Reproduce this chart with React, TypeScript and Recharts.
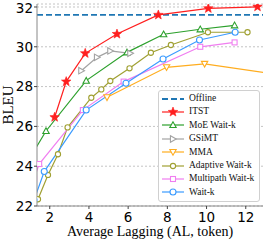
import { LineChart, Line, XAxis, YAxis, CartesianGrid, ReferenceLine } from 'recharts'

// AL (x) and BLEU (y)
const OFFLINE = 31.6

const itstX = [2.25, 2.84, 3.81, 5.43, 7.54, 10.09, 12.6]
const itstY = [26.46, 28.25, 29.67, 30.64, 31.6, 31.93, 32.01]

const moeX = [1.1, 1.81, 3.86, 5.94, 7.81, 9.68, 11.43]
const moeY = [24.6, 25.77, 28.3, 29.72, 30.63, 30.88, 31.08]

const gsimtX = [3.61, 4.41, 5.09, 6.11]
const gsimtY = [28.8, 29.47, 29.79, 29.67]

const mmaX = [4.92, 7.96, 9.9, 14.0]
const mmaY = [27.46, 28.97, 29.14, 28.56]

const adaptiveX = [1.4, 1.91, 2.42, 2.91, 4.12, 4.63, 5.09, 6.07, 7.16, 8.18, 10.07, 12.09]
const adaptiveY = [22.34, 23.56, 24.6, 25.95, 27.44, 27.86, 28.28, 28.92, 29.7, 30.09, 30.73, 30.73]

const multipathX = [1.2, 1.46, 3.69, 5.77, 9.68, 11.43]
const multipathY = [23.38, 24.11, 26.82, 28.25, 30.0, 30.22]

const waitkX = [1.2, 1.72, 3.86, 5.89, 7.78, 9.64, 11.46]
const waitkY = [22.3, 23.73, 26.82, 28.17, 29.39, 30.34, 30.73]

const xTicks = [2, 4, 6, 8, 10, 12]
const yTicks = [22, 24, 26, 28, 30, 32]

// first/last point of some series sit outside the axes and get clipped
const zip = (xs: number[], ys: number[]) => xs.map((x, i) => ({ x, y: ys[i] }))

type Shape = 'star' | 'up' | 'right' | 'down' | 'circle' | 'square'

const series: { name: string; color: string; shape: Shape; data: { x: number; y: number }[] }[] = [
  { name: 'ITST', color: '#ff1f1f', shape: 'star', data: zip(itstX, itstY) },
  { name: 'MoE Wait-k', color: '#2ca02c', shape: 'up', data: zip(moeX, moeY) },
  { name: 'GSiMT', color: '#a3a3a3', shape: 'right', data: zip(gsimtX, gsimtY) },
  { name: 'MMA', color: '#ffad1f', shape: 'down', data: zip(mmaX, mmaY) },
  { name: 'Adaptive Wait-k', color: '#a0a032', shape: 'circle', data: zip(adaptiveX, adaptiveY) },
  { name: 'Multipath Wait-k', color: '#f07ef0', shape: 'square', data: zip(multipathX, multipathY) },
  { name: 'Wait-k', color: '#3b9bff', shape: 'circle', data: zip(waitkX, waitkY) },
]

function Marker({ shape, cx, cy, color, big }: { shape: Shape; cx: number; cy: number; color: string; big?: boolean }) {
  const sw = 1.1
  if (shape === 'star') {
    const R = 5, r = 2.1
    const pts = Array.from({ length: 10 }, (_, i) => {
      const a = -Math.PI / 2 + (i * Math.PI) / 5
      const rad = i % 2 === 0 ? R : r
      return `${cx + rad * Math.cos(a)},${cy + rad * Math.sin(a)}`
    }).join(' ')
    return <polygon points={pts} fill={color} stroke={color} strokeWidth={0.6} />
  }
  if (shape === 'circle') {
    return <circle cx={cx} cy={cy} r={big ? 3 : 2.6} fill="#fff" stroke={color} strokeWidth={sw} />
  }
  if (shape === 'square') {
    return <rect x={cx - 2.5} y={cy - 2.5} width={5} height={5} fill="#fff" stroke={color} strokeWidth={sw} />
  }
  const s = 3.2
  let pts = ''
  if (shape === 'up') pts = `${cx},${cy - s} ${cx - s},${cy + s * 0.8} ${cx + s},${cy + s * 0.8}`
  if (shape === 'down') pts = `${cx},${cy + s} ${cx - s},${cy - s * 0.8} ${cx + s},${cy - s * 0.8}`
  if (shape === 'right') pts = `${cx + s},${cy} ${cx - s * 0.8},${cy - s} ${cx - s * 0.8},${cy + s}`
  return <polygon points={pts} fill="#fff" stroke={color} strokeWidth={sw} />
}

const serif = '"Liberation Serif", "Times New Roman", serif'
const sans = '"DejaVu Sans", sans-serif'

const LegendBox = () => (
  <div style={{
    position: 'absolute', left: 158, top: 90, width: 100,
    background: '#fff', border: '1px solid #d0d0d0', borderRadius: 3,
    padding: '1px 0 2px 0', fontFamily: serif, fontSize: 9.5, color: '#111', lineHeight: 1,
  }}>
    <div style={{ display: 'flex', alignItems: 'center', height: 13.4 }}>
      <svg width={28} height={10} style={{ marginLeft: 2 }}>
        <line x1={1} x2={23} y1={5} y2={5} stroke="#1f77b4" strokeWidth={1.8} strokeDasharray="6 3" />
      </svg>
      <span>Offline</span>
    </div>
    {series.map(s => (
      <div key={s.name} style={{ display: 'flex', alignItems: 'center', height: 13.4 }}>
        <svg width={28} height={12} style={{ marginLeft: 2 }}>
          <line x1={1} x2={23} y1={6} y2={6} stroke={s.color} strokeWidth={1.2} />
          <Marker shape={s.shape} cx={12} cy={6} color={s.color} big={s.name === 'Wait-k'} />
        </svg>
        <span style={{ whiteSpace: 'nowrap' }}>{s.name}</span>
      </div>
    ))}
  </div>
)

export default function App() {
  return (
    <div style={{ position: 'absolute', left: 0, top: 0, width: 266, height: 241, background: '#fff' }}>
      <LineChart width={266} height={241} margin={{ top: 4, right: 3, left: 0, bottom: 0 }}>
        <CartesianGrid vertical={false} strokeDasharray="2 2" stroke="#c4c4c4" />
        <XAxis
          dataKey="x" type="number" domain={[1.35, 12.88]} ticks={xTicks} allowDataOverflow
          height={35} tickSize={3} tickMargin={3}
          stroke="#888" tickLine={{ stroke: '#444' }}
          tick={{ fontSize: 13.5, fill: '#000', fontFamily: sans }}
          label={{ value: 'Average Lagging (AL, token)', position: 'insideBottom', offset: 5, fontSize: 14, fill: '#000', fontFamily: serif }}
        />
        <XAxis xAxisId="top" orientation="top" type="number" domain={[1.35, 12.88]} height={0} tick={false} tickLine={false} stroke="#888" allowDataOverflow />
        <YAxis
          type="number" domain={[22, 32.15]} ticks={yTicks} allowDataOverflow
          width={37} tickSize={3} tickMargin={1}
          stroke="#888" tickLine={{ stroke: '#444' }}
          tick={{ fontSize: 13.5, fill: '#000', fontFamily: sans }}
          label={{
            value: 'BLEU',
            content: () => (
              <text x={13} y={105} transform="rotate(-90 13 105)" textAnchor="middle"
                fontSize={15} fontFamily={serif} fill="#000">BLEU</text>
            ),
          }}
        />
        <YAxis yAxisId="right" orientation="right" type="number" domain={[22, 32.15]} width={0} tick={false} tickLine={false} stroke="#888" allowDataOverflow />
        <ReferenceLine y={OFFLINE} stroke="#1f77b4" strokeWidth={1.8} strokeDasharray="6 3" />
        {series.map(s => (
          <Line
            key={s.name}
            data={s.data}
            dataKey="y"
            name={s.name}
            stroke={s.color}
            strokeWidth={1.2}
            isAnimationActive={false}
            dot={(p: any) => (
              <Marker key={`${s.name}-${p.index}`} shape={s.shape} cx={p.cx} cy={p.cy} color={s.color} big={s.name === 'Wait-k'} />
            )}
          />
        ))}
      </LineChart>
      <LegendBox />
    </div>
  )
}
